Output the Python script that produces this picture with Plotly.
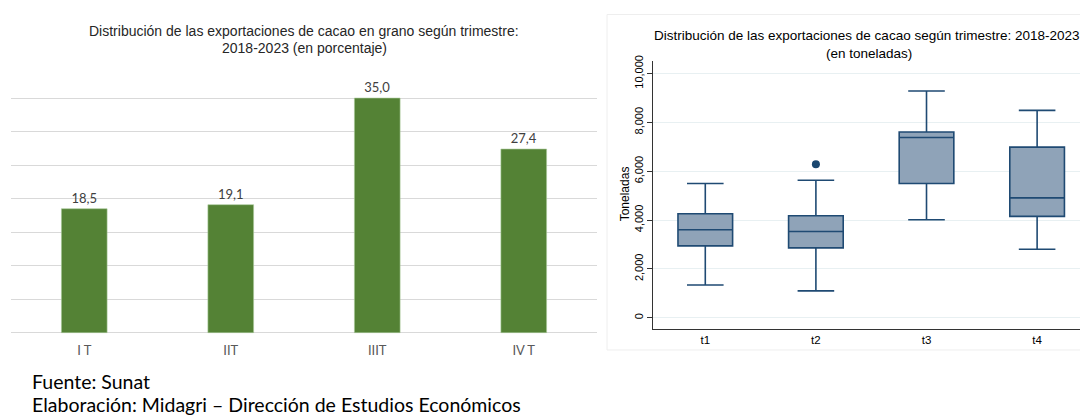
import plotly.graph_objects as go

# ---------------- data ----------------
bar_categories = ["I T", "IIT", "IIIT", "IV T"]
bar_values = [18.5, 19.1, 35.0, 27.4]
bar_labels = ["18,5", "19,1", "35,0", "27,4"]

box_categories = ["t1", "t2", "t3", "t4"]
box_lowerfence = [1340, 1100, 4016, 2806]
box_q1 = [2944, 2863, 5496, 4153]
box_median = [3601, 3532, 7379, 4910]
box_q3 = [4258, 4177, 7605, 6988]
box_upperfence = [5496, 5629, 9286, 8492]
outlier_x = ["t2"]
outlier_y = [6290]

# the page body adds an 8px margin, so the figure is drawn 8px smaller
OFF = 8
W, H = 1088 - OFF, 417 - OFF

def px_x(x):
    return (x - OFF) / W

def px_y(y):
    return 1 - (y - OFF) / H

fig = go.Figure()

# ---------- left: bar chart ----------
fig.add_trace(go.Bar(
    x=bar_categories, y=bar_values, text=bar_labels,
    textposition="outside", cliponaxis=False,
    textfont=dict(family="Lato", size=13, color="#404040"),
    marker=dict(color="#548235", line=dict(color="#a9c99a", width=0.6)),
    width=0.312, xaxis="x", yaxis="y", showlegend=False,
))

# ---------- right: box plot ----------
fig.add_trace(go.Box(
    x=box_categories, q1=box_q1, median=box_median, q3=box_q3,
    lowerfence=box_lowerfence, upperfence=box_upperfence,
    boxpoints=False, width=0.494, whiskerwidth=0.67,
    fillcolor="#8fa3b8", line=dict(color="#1f4a73", width=1.6),
    xaxis="x2", yaxis="y2", showlegend=False,
))
fig.add_trace(go.Scatter(
    x=outlier_x, y=outlier_y, mode="markers",
    marker=dict(color="#1a476f", size=8),
    xaxis="x2", yaxis="y2", showlegend=False,
))

per_unit = (331.5 - 59.3) / 40.0
fig.update_layout(
    width=W, height=H,
    margin=dict(l=0, r=0, t=0, b=0),
    paper_bgcolor="white", plot_bgcolor="white",
    font=dict(family="Liberation Sans", color="#000000"),
    xaxis=dict(
        domain=[px_x(11), px_x(597)], type="category",
        range=[-0.5, 3.5], showgrid=False, showline=False, ticks="",
        tickfont=dict(family="Lato", size=13, color="#595959"),
        ticklabelstandoff=8,
        fixedrange=True,
    ),
    yaxis=dict(
        domain=[px_y(331.5 + 0.1 * per_unit), px_y(59.3 - 0.1 * per_unit)],
        range=[-0.1, 40.1], dtick=5, showticklabels=False,
        showgrid=True, gridcolor="#d9d9d9", gridwidth=1,
        zeroline=True, zerolinecolor="#d9d9d9", zerolinewidth=1,
        showline=False, ticks="",
    ),
    xaxis2=dict(
        domain=[px_x(653.3), 1.0], type="category", anchor="y2",
        range=[-0.47, 3.46], showgrid=False,
        showline=True, linecolor="#333333", linewidth=1,
        ticks="",
        tickfont=dict(family="Liberation Sans", size=11.5, color="#000000"),
    ),
    yaxis2=dict(
        domain=[px_y(327.7), px_y(56)], anchor="x2",
        range=[-460, 10500], tickvals=[0, 2000, 4000, 6000, 8000, 10000],
        tickformat=",", tickangle=-90,
        showgrid=True, gridcolor="#e8f0f2", gridwidth=1, zeroline=False,
        showline=True, linecolor="#333333", linewidth=1,
        ticks="outside", ticklen=5, tickcolor="#333333",
        tickfont=dict(family="Liberation Sans", size=11, color="#000000"),
    ),
    bargap=0.688,
)

# titles and notes
annotations = [
    dict(text="Distribución de las exportaciones de cacao en grano según trimestre:",
         x=px_x(304), y=px_y(25), font=dict(size=14, family="Liberation Sans", color="#262626")),
    dict(text="2018-2023 (en porcentaje)",
         x=px_x(304), y=px_y(43), font=dict(size=14, family="Liberation Sans", color="#262626")),
    dict(text="Distribución de las exportaciones de cacao según trimestre: 2018-2023",
         x=px_x(867), y=px_y(30), font=dict(size=13.5, family="Liberation Sans", color="#000000")),
    dict(text="(en toneladas)",
         x=px_x(869), y=px_y(48), font=dict(size=13.5, family="Liberation Sans", color="#000000")),
    dict(text="Toneladas", textangle=-90,
         x=px_x(625), y=px_y(191), font=dict(size=12, family="Liberation Sans", color="#000000")),
]
for a in annotations:
    fig.add_annotation(xref="paper", yref="paper", showarrow=False,
                       xanchor="center", yanchor="middle", **a)

fig.add_annotation(text="Fuente: Sunat", xref="paper", yref="paper", showarrow=False,
                   x=px_x(30), y=px_y(381), xanchor="left", yanchor="middle",
                   font=dict(size=19.5, family="Lato", color="#000000"))
fig.add_annotation(text="Elaboración: Midagri – Dirección de Estudios Económicos",
                   xref="paper", yref="paper", showarrow=False,
                   x=px_x(30), y=px_y(404.5), xanchor="left", yanchor="middle",
                   font=dict(size=19.5, family="Lato", color="#000000"))

# faint frame of the right-hand graph
fig.add_shape(type="rect", xref="paper", yref="paper",
              x0=px_x(607), x1=px_x(1100), y0=px_y(349), y1=px_y(8.5),
              line=dict(color="#eeeeee", width=1), layer="below")

fig.write_html("out.html")
